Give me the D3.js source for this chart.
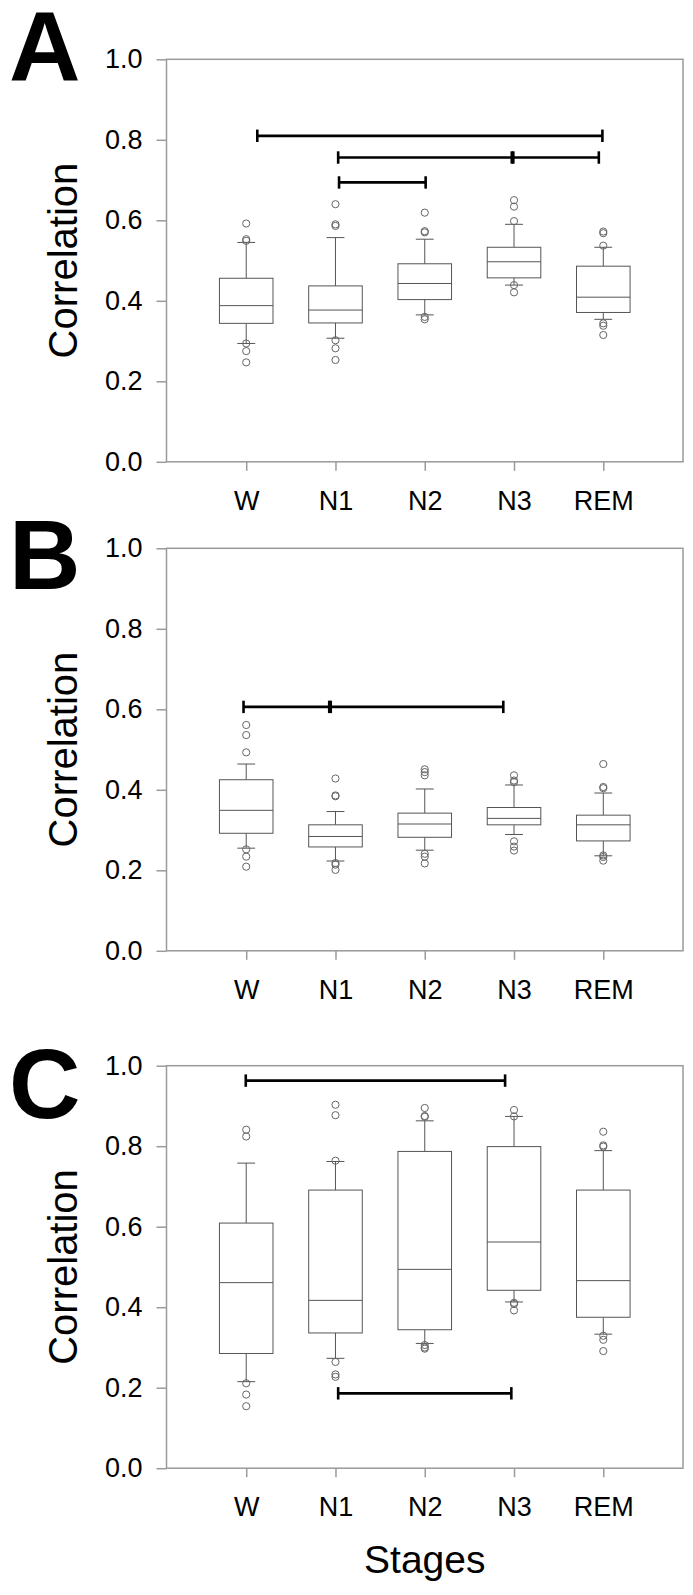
<!DOCTYPE html>
<html>
<head>
<meta charset="utf-8">
<script src="https://cdn.jsdelivr.net/npm/d3@7"></script>
<style>
  html, body { margin: 0; padding: 0; background: #fff; }
  svg { display: block; }
  text { font-family: "Liberation Sans", Arial, sans-serif; fill: #000; }
</style>
</head>
<body>
<svg id="chart" width="693" height="1595"></svg>
<script>
// ---------- data ----------
const stages = ["W", "N1", "N2", "N3", "REM"];
const yTicks = [0, 0.2, 0.4, 0.6, 0.8, 1.0];
const panelLetters = ["A", "B", "C"];
const yLabel = "Correlation";
const xLabel = "Stages";

// Panel A
const aQ3     = [0.456, 0.437, 0.492, 0.533, 0.486];
const aMedian = [0.388, 0.377, 0.443, 0.497, 0.409];
const aQ1     = [0.344, 0.345, 0.403, 0.457, 0.371];
const aWhiskHi = [0.545, 0.557, 0.553, 0.590, 0.533];
const aWhiskLo = [0.294, 0.307, 0.365, 0.439, 0.354];
const aOutliers = [
  [0.592, 0.553, 0.549, 0.294, 0.275, 0.247],
  [0.640, 0.590, 0.586, 0.302, 0.282, 0.253],
  [0.619, 0.573, 0.570, 0.360, 0.354],
  [0.650, 0.634, 0.598, 0.439, 0.421],
  [0.572, 0.568, 0.537, 0.344, 0.338, 0.315]
];
const aBracketY = [0.810, 0.756, 0.694];
const aBracketSegs = [
  [[1.124, 4.99]],
  [[2.03, 3.975], [3.992, 4.95]],
  [[2.04, 3.01]]
];

// Panel B
const bQ3     = [0.425, 0.313, 0.342, 0.356, 0.337];
const bMedian = [0.349, 0.284, 0.315, 0.329, 0.313];
const bQ1     = [0.292, 0.258, 0.282, 0.313, 0.273];
const bWhiskHi = [0.464, 0.346, 0.402, 0.412, 0.392];
const bWhiskLo = [0.255, 0.223, 0.250, 0.289, 0.236];
const bOutliers = [
  [0.561, 0.536, 0.493, 0.252, 0.234, 0.209],
  [0.428, 0.386, 0.384, 0.218, 0.214, 0.201],
  [0.451, 0.444, 0.436, 0.241, 0.234, 0.217],
  [0.436, 0.423, 0.419, 0.272, 0.259, 0.249],
  [0.464, 0.407, 0.404, 0.237, 0.233, 0.224]
];
const bBracketY = [0.606];
const bBracketSegs = [
  [[0.97, 1.93], [1.947, 3.88]]
];

// Panel C
const cQ3     = [0.609, 0.691, 0.787, 0.799, 0.691];
const cMedian = [0.461, 0.417, 0.494, 0.562, 0.466];
const cQ1     = [0.285, 0.336, 0.344, 0.442, 0.375];
const cWhiskHi = [0.758, 0.762, 0.863, 0.874, 0.789];
const cWhiskLo = [0.215, 0.273, 0.310, 0.413, 0.333];
const cOutliers = [
  [0.841, 0.824, 0.211, 0.183, 0.154],
  [0.903, 0.877, 0.764, 0.264, 0.233, 0.227],
  [0.895, 0.875, 0.873, 0.306, 0.300, 0.297],
  [0.890, 0.874, 0.411, 0.408, 0.392],
  [0.836, 0.802, 0.799, 0.329, 0.319, 0.291]
];
const cBracketY = [0.963, 0.186];
const cBracketSegs = [
  [[0.995, 3.90]],
  [[2.03, 3.97]]
];

// ---------- layout ----------
const panels = [
  { letter: panelLetters[0], q3: aQ3, med: aMedian, q1: aQ1, hi: aWhiskHi, lo: aWhiskLo, out: aOutliers, by: aBracketY, bs: aBracketSegs, top: 59.3, letterBase: 80 },
  { letter: panelLetters[1], q3: bQ3, med: bMedian, q1: bQ1, hi: bWhiskHi, lo: bWhiskLo, out: bOutliers, by: bBracketY, bs: bBracketSegs, top: 548.3, letterBase: 589 },
  { letter: panelLetters[2], q3: cQ3, med: cMedian, q1: cQ1, hi: cWhiskHi, lo: cWhiskLo, out: cOutliers, by: cBracketY, bs: cBracketSegs, top: 1065.7, letterBase: 1118 }
];

const plotLeft = 166.5, plotRight = 683, plotH = 402.5;
const frameColor = "#9a9a9a";
const boxColor = "#555";
const boxHalf = 0.30, capHalf = 0.10;

const svg = d3.select("#chart");
const x = d3.scaleLinear().domain([0.107, 5.893]).range([plotLeft, plotRight]);

panels.forEach((p, pi) => {
  const y = d3.scaleLinear().domain([0, 1]).range([p.top + plotH, p.top]);
  const g = svg.append("g");

  // frame
  g.append("rect")
    .attr("x", plotLeft).attr("y", p.top)
    .attr("width", plotRight - plotLeft).attr("height", plotH)
    .attr("fill", "none").attr("stroke", frameColor).attr("stroke-width", 1.5);

  // y axis
  const yAxis = d3.axisLeft(y).tickValues(yTicks).tickFormat(d3.format(".1f"))
    .tickSize(10).tickPadding(14);
  const ya = g.append("g").attr("transform", `translate(${plotLeft},0)`).call(yAxis);
  ya.select(".domain").remove();
  ya.selectAll(".tick line").attr("stroke", frameColor).attr("stroke-width", 1.5);
  ya.selectAll(".tick text").attr("font-size", 27).attr("fill", "#000")
    .style("font-family", '"Liberation Sans", Arial, sans-serif');

  // x axis
  const xAxis = d3.axisBottom(x).tickValues([1, 2, 3, 4, 5])
    .tickFormat((d, i) => stages[i]).tickSize(9).tickPadding(20);
  const xa = g.append("g").attr("transform", `translate(0,${p.top + plotH})`).call(xAxis);
  xa.select(".domain").remove();
  xa.selectAll(".tick line").attr("stroke", frameColor).attr("stroke-width", 1.5);
  xa.selectAll(".tick text").attr("font-size", 27).attr("fill", "#000")
    .style("font-family", '"Liberation Sans", Arial, sans-serif');

  // y label
  g.append("text")
    .attr("transform", `translate(77,${p.top + plotH / 2}) rotate(-90)`)
    .attr("text-anchor", "middle")
    .attr("font-size", 40)
    .text(yLabel);

  // panel letter
  g.append("text")
    .attr("x", 9).attr("y", p.letterBase)
    .attr("font-size", 99).attr("font-weight", "bold")
    .text(p.letter);

  // boxes
  stages.forEach((s, i) => {
    const cx = i + 1;
    const bg = g.append("g");
    // whiskers
    bg.append("line").attr("x1", x(cx)).attr("x2", x(cx))
      .attr("y1", y(p.q3[i])).attr("y2", y(p.hi[i]))
      .attr("stroke", boxColor).attr("stroke-width", 1);
    bg.append("line").attr("x1", x(cx)).attr("x2", x(cx))
      .attr("y1", y(p.q1[i])).attr("y2", y(p.lo[i]))
      .attr("stroke", boxColor).attr("stroke-width", 1);
    bg.append("line").attr("x1", x(cx - capHalf)).attr("x2", x(cx + capHalf))
      .attr("y1", y(p.hi[i])).attr("y2", y(p.hi[i]))
      .attr("stroke", boxColor).attr("stroke-width", 1);
    bg.append("line").attr("x1", x(cx - capHalf)).attr("x2", x(cx + capHalf))
      .attr("y1", y(p.lo[i])).attr("y2", y(p.lo[i]))
      .attr("stroke", boxColor).attr("stroke-width", 1);
    // box
    bg.append("rect")
      .attr("x", x(cx - boxHalf)).attr("y", y(p.q3[i]))
      .attr("width", x(cx + boxHalf) - x(cx - boxHalf))
      .attr("height", y(p.q1[i]) - y(p.q3[i]))
      .attr("fill", "#fff").attr("stroke", boxColor).attr("stroke-width", 1);
    // median
    bg.append("line").attr("x1", x(cx - boxHalf)).attr("x2", x(cx + boxHalf))
      .attr("y1", y(p.med[i])).attr("y2", y(p.med[i]))
      .attr("stroke", boxColor).attr("stroke-width", 1);
    // outliers
    bg.selectAll("circle").data(p.out[i]).enter().append("circle")
      .attr("cx", x(cx)).attr("cy", d => y(d)).attr("r", 3.6)
      .attr("fill", "none").attr("stroke", "#666").attr("stroke-width", 1);
  });

  // significance brackets
  p.by.forEach((bv, bi) => {
    const yy = y(bv);
    p.bs[bi].forEach(seg => {
      g.append("line").attr("x1", x(seg[0])).attr("x2", x(seg[1]))
        .attr("y1", yy).attr("y2", yy)
        .attr("stroke", "#000").attr("stroke-width", 2.7);
      seg.forEach(e => {
        g.append("line").attr("x1", x(e)).attr("x2", x(e))
          .attr("y1", yy - 6.2).attr("y2", yy + 6.2)
          .attr("stroke", "#000").attr("stroke-width", 2.6);
      });
    });
  });

  if (pi === panels.length - 1) {
    svg.append("text")
      .attr("x", (plotLeft + plotRight) / 2).attr("y", 1573)
      .attr("text-anchor", "middle").attr("font-size", 39)
      .text(xLabel);
  }
});
</script>
</body>
</html>
